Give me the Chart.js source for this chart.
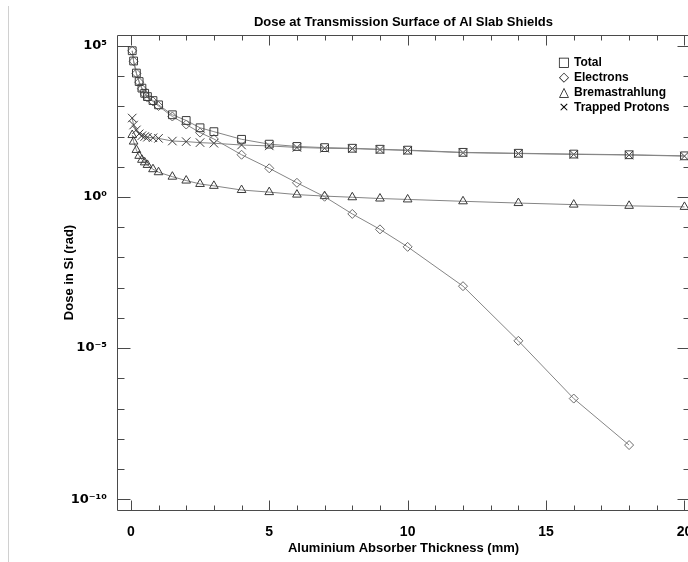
<!DOCTYPE html>
<html>
<head>
<meta charset="utf-8">
<script src="https://cdn.jsdelivr.net/npm/chart.js@4.4.1/dist/chart.umd.min.js"></script>
<style>
  html, body { margin: 0; padding: 0; background: #fff; overflow: hidden; }
  body { width: 688px; height: 562px; position: relative; }
  #edge { position: absolute; left: 8px; top: 6px; width: 1px; height: 556px; background: #d0d0d0; }
  #myChart { position: absolute; left: 0; top: 0; }
  #legend { position: absolute; left: 557px; top: 54px; font: bold 12px "Liberation Sans", Arial, sans-serif; color: #000; }
  #legend div { height: 15px; line-height: 15px; white-space: nowrap; }
  #legend span { display: inline-block; width: 14px; margin-right: 3px; font: 13px "DejaVu Sans", sans-serif; text-align: center; }
</style>
</head>
<body>
<div id="edge"></div>
<canvas id="myChart" width="700" height="562"></canvas>
<div id="legend"></div>
<script>
// aluminium thickness (mm)
const thickness = [0.05, 0.1, 0.2, 0.3, 0.4, 0.5, 0.6, 0.8, 1, 1.5, 2, 2.5, 3, 4, 5, 6, 7, 8, 9, 10, 12, 14, 16, 18, 20];
// dose in Si (rad)
const totalDose = [6.9e4, 3.16e4, 1.26e4, 6.6e3, 4.0e3, 2.7e3, 2.1e3, 1.55e3, 1.12e3, 525, 340, 195, 145, 81, 56, 47, 43, 41, 38, 35.5, 30, 28, 26.3, 25, 23];
const electronDose = [6.85e4, 3.1e4, 1.23e4, 6.3e3, 3.8e3, 2.57e3, 1.95e3, 1.45e3, 1.02e3, 460, 250, 135, 83, 25, 8.9, 2.95, 1.02, 0.275, 0.085, 0.0224, 1.12e-3, 1.74e-5, 2.14e-7, 6.2e-9];
const bremDose = [112, 68, 36, 23, 17, 14, 11.5, 8.3, 6.6, 4.7, 3.5, 2.7, 2.34, 1.7, 1.45, 1.2, 1.07, 0.98, 0.89, 0.83, 0.72, 0.63, 0.56, 0.51, 0.47];
const protonDose = [410, 240, 166, 123, 107, 100, 95, 91, 87, 71, 68, 63, 60, 52.5, 49, 43.6, 41, 39.7, 37, 34.6, 29.3, 27.4, 25.7, 24.5, 22.5];

const seriesNames = ['Total', 'Electrons', 'Bremastrahlung', 'Trapped Protons'];
const legendSymbols = ['\u25A1', '\u25C7', '\u25B3', '\u00D7'];

const xTickValues = [0, 1, 2, 3, 4, 5, 6, 7, 8, 9, 10, 11, 12, 13, 14, 15, 16, 17, 18, 19, 20];
const yTickExponents = [-10, -9, -8, -7, -6, -5, -4, -3, -2, -1, 0, 1, 2, 3, 4, 5];

const FONT = '"Liberation Sans", Arial, "DejaVu Sans", sans-serif';
const SUP = { '0': '\u2070', '1': '\u00B9', '2': '\u00B2', '3': '\u00B3', '4': '\u2074', '5': '\u2075',
              '6': '\u2076', '7': '\u2077', '8': '\u2078', '9': '\u2079', '-': '\u207B' };

function toPoints(values) {
    return values.map((v, i) => ({ x: thickness[i], y: v }));
}

// legend as plain text
const legendEl = document.getElementById('legend');
seriesNames.forEach((name, i) => {
    const row = document.createElement('div');
    row.innerHTML = '<span>' + legendSymbols[i] + '</span>' + name;
    legendEl.appendChild(row);
});

// box round the plot with inward ticks on all four sides
const frameTicks = {
    id: 'frameTicks',
    beforeDatasetsDraw(chart) {
        const { ctx, chartArea: a, scales: { x, y } } = chart;
        const L = Math.round(a.left) + 0.5, R = Math.round(a.right) + 0.5;
        const T = Math.round(a.top) + 0.5, B = Math.round(a.bottom) + 0.5;
        ctx.save();
        ctx.strokeStyle = '#4a4a4a';
        ctx.lineWidth = 1;
        ctx.beginPath();
        ctx.rect(L, T, R - L, B - T);
        x.ticks.forEach(t => {
            const px = Math.round(x.getPixelForValue(t.value)) + 0.5;
            const len = t.value % 5 === 0 ? 10 : 5;
            ctx.moveTo(px, B); ctx.lineTo(px, B - len);
            ctx.moveTo(px, T); ctx.lineTo(px, T + len);
        });
        y.ticks.forEach(t => {
            const py = Math.round(y.getPixelForValue(t.value)) + 0.5;
            const len = Math.round(Math.log10(t.value)) % 5 === 0 ? 13 : 7;
            ctx.moveTo(L, py); ctx.lineTo(L + len, py);
            ctx.moveTo(R, py); ctx.lineTo(R - len, py);
        });
        ctx.stroke();
        ctx.restore();
    }
};

function makeDataset(label, values, style, radius, markColor) {
    return {
        label: label,
        data: toPoints(values),
        borderColor: '#858585',
        borderWidth: 1,
        pointStyle: style,
        pointRadius: radius,
        pointBorderColor: markColor,
        pointBackgroundColor: 'rgba(0,0,0,0)',
        pointBorderWidth: 1,
        tension: 0,
        fill: false
    };
}

const ctx = document.getElementById('myChart').getContext('2d');
const myChart = new Chart(ctx, {
    type: 'line',
    data: {
        datasets: [
            makeDataset(seriesNames[0], totalDose, 'rect', 5.5, '#3a3a3a'),
            makeDataset(seriesNames[1], electronDose, 'rectRot', 4.5, '#6a6a6a'),
            makeDataset(seriesNames[2], bremDose, 'triangle', 5, '#3a3a3a'),
            makeDataset(seriesNames[3], protonDose, 'crossRot', 6, '#3a3a3a')
        ]
    },
    options: {
        responsive: false,
        animation: false,
        layout: { padding: { left: 0, right: 10, top: 0, bottom: 0 } },
        plugins: {
            legend: { display: false },
            tooltip: { enabled: false },
            title: {
                display: true,
                text: 'Dose at Transmission Surface of Al Slab Shields',
                color: '#000',
                font: { family: FONT, size: 13, weight: 'bold' },
                padding: { top: 15, bottom: 4.4 },
                fullSize: false
            }
        },
        scales: {
            x: {
                type: 'linear',
                min: -0.5,
                max: 20.2,
                bounds: 'data',
                grid: { display: false },
                border: { display: false },
                afterBuildTicks: s => { s.ticks = xTickValues.map(v => ({ value: v })); },
                afterFit: s => { s.height = 52; },
                ticks: {
                    autoSkip: false,
                    maxRotation: 0,
                    padding: 6,
                    color: '#000',
                    font: { family: FONT, size: 14, weight: 'bold' },
                    callback: v => (v % 5 === 0 ? String(v) : '')
                },
                title: {
                    display: true,
                    text: 'Aluminium Absorber Thickness (mm)',
                    color: '#000',
                    font: { family: FONT, size: 13, weight: 'bold' },
                    padding: { top: 0, bottom: 6 }
                }
            },
            y: {
                type: 'logarithmic',
                min: 4.4e-11,
                max: 2.29e5,
                bounds: 'data',
                grid: { display: false },
                border: { display: false },
                afterBuildTicks: s => { s.ticks = yTickExponents.map(e => ({ value: Math.pow(10, e) })); },
                afterFit: s => { s.width = 117; },
                ticks: {
                    autoSkip: false,
                    padding: 2,
                    color: '#000',
                    font: { family: '"DejaVu Sans", sans-serif', size: 13, weight: 'bold' },
                    callback: v => {
                        const e = Math.round(Math.log10(v));
                        if (e % 5 !== 0) return '';
                        return '10' + String(e).split('').map(c => SUP[c]).join('');
                    }
                },
                title: {
                    display: true,
                    text: 'Dose in Si (rad)',
                    color: '#000',
                    font: { family: FONT, size: 13, weight: 'bold' },
                    padding: { top: 62, bottom: 0 }
                }
            }
        }
    },
    plugins: [frameTicks]
});
</script>
</body>
</html>
